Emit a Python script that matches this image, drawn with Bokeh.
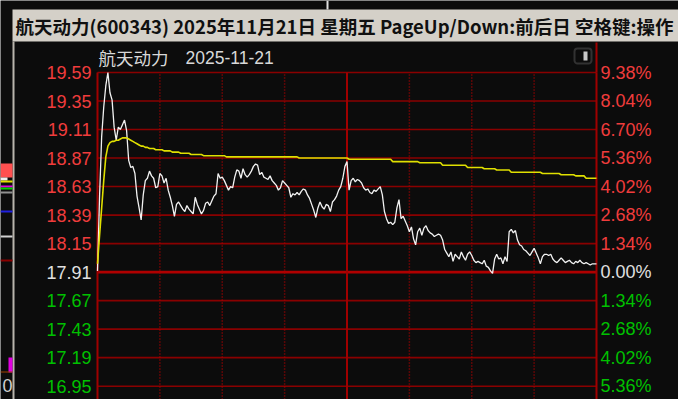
from bokeh.plotting import figure
from bokeh.models import Range1d, Label, BoxAnnotation
from bokeh.core.properties import value
from bokeh.embed import file_html
from bokeh.resources import INLINE

stock_name = "航天动力"
trade_date = "2025-11-21"
title_text = "航天动力(600343) 2025年11月21日 星期五 PageUp/Down:前后日 空格键:操作"
prev_close = 17.91

price = [
    17.92, 18.55, 19.05, 19.30, 19.48, 19.59, 19.42, 19.36, 19.13, 19.02,
    19.13, 19.11, 19.15, 19.19, 19.10, 18.85, 18.79, 18.80, 18.74, 18.55,
    18.45, 18.35, 18.56, 18.68, 18.70, 18.76, 18.72, 18.70, 18.62, 18.63,
    18.74, 18.72, 18.66, 18.70, 18.60, 18.54, 18.47, 18.38, 18.48, 18.50,
    18.47, 18.44, 18.42, 18.47, 18.44, 18.42, 18.40, 18.54, 18.48, 18.44,
    18.40, 18.43, 18.49, 18.50, 18.47, 18.51, 18.55, 18.57, 18.74, 18.70,
    18.71, 18.68, 18.64, 18.60, 18.63, 18.62, 18.71, 18.77, 18.76, 18.70,
    18.78, 18.73, 18.71, 18.73, 18.76, 18.80, 18.82, 18.81, 18.73, 18.75,
    18.71, 18.70, 18.69, 18.72, 18.68, 18.66, 18.64, 18.60, 18.62, 18.68,
    18.66, 18.64, 18.62, 18.54, 18.57, 18.56, 18.58, 18.56, 18.59, 18.61,
    18.60, 18.56, 18.53, 18.48, 18.43, 18.37, 18.45, 18.50, 18.46, 18.44,
    18.48, 18.47, 18.42, 18.50, 18.52, 18.55, 18.60, 18.63, 18.70, 18.80,
    18.84, 18.60, 18.68, 18.70, 18.67, 18.69, 18.68, 18.66, 18.62, 18.60,
    18.61, 18.58, 18.57, 18.60, 18.59, 18.61, 18.63, 18.56, 18.42, 18.36,
    18.32, 18.33, 18.31, 18.33, 18.45, 18.52, 18.36, 18.38, 18.34, 18.30,
    18.25, 18.29, 18.19, 18.14, 18.25, 18.28, 18.22, 18.28, 18.30, 18.26,
    18.24, 18.23, 18.21, 18.22, 18.23, 18.22, 18.18, 18.10, 18.07, 18.04,
    18.08, 18.00, 18.06, 18.04, 18.02, 18.08, 18.04, 18.01, 18.06, 18.08,
    18.05, 18.01, 17.99, 18.00, 17.99, 17.98, 18.01, 17.96, 17.95, 17.92,
    17.90, 18.02, 18.06, 18.02, 18.03, 17.98, 18.04, 18.00, 18.25, 18.27,
    18.24, 18.26, 18.18, 18.14, 18.13, 18.10, 18.09, 18.07, 18.05, 18.08,
    18.11, 18.07, 18.03, 17.98, 18.04, 18.06, 18.06, 18.05, 18.06, 18.02,
    18.00, 17.99, 18.01, 18.03, 18.01, 17.99, 18.00, 18.01, 17.99, 17.98,
    18.00, 17.99, 18.01, 17.99, 17.98, 17.99, 17.98, 17.97, 17.98, 17.98,
    17.98,
]

avg_price = [
    17.98, 18.22, 18.45, 18.68, 18.88, 18.97, 19.00, 19.01, 19.01, 19.02,
    19.02, 19.03, 19.04, 19.04, 19.04, 19.03, 19.02, 19.01, 19.00, 18.99,
    18.98, 18.97, 18.97, 18.96, 18.96, 18.95, 18.95, 18.95, 18.94, 18.94,
    18.94, 18.94, 18.93, 18.93, 18.93, 18.93, 18.92, 18.92, 18.92, 18.92,
    18.91, 18.91, 18.91, 18.91, 18.91, 18.90, 18.90, 18.90, 18.90, 18.90,
    18.90, 18.89, 18.89, 18.89, 18.89, 18.89, 18.89, 18.89, 18.89, 18.89,
    18.89, 18.89, 18.88, 18.88, 18.88, 18.88, 18.88, 18.88, 18.88, 18.88,
    18.88, 18.88, 18.88, 18.88, 18.88, 18.88, 18.88, 18.88, 18.88, 18.88,
    18.88, 18.88, 18.88, 18.88, 18.88, 18.88, 18.88, 18.88, 18.88, 18.88,
    18.88, 18.88, 18.88, 18.88, 18.88, 18.88, 18.88, 18.87, 18.87, 18.87,
    18.87, 18.87, 18.87, 18.87, 18.87, 18.87, 18.87, 18.87, 18.87, 18.87,
    18.87, 18.87, 18.87, 18.87, 18.87, 18.87, 18.87, 18.87, 18.87, 18.87,
    18.87, 18.86, 18.86, 18.86, 18.86, 18.86, 18.86, 18.86, 18.86, 18.86,
    18.86, 18.86, 18.86, 18.86, 18.86, 18.86, 18.86, 18.86, 18.86, 18.86,
    18.86, 18.86, 18.84, 18.84, 18.84, 18.84, 18.84, 18.84, 18.84, 18.84,
    18.84, 18.84, 18.84, 18.84, 18.84, 18.83, 18.83, 18.83, 18.83, 18.83,
    18.83, 18.83, 18.83, 18.83, 18.83, 18.83, 18.81, 18.81, 18.81, 18.81,
    18.81, 18.81, 18.81, 18.81, 18.81, 18.81, 18.81, 18.81, 18.79, 18.79,
    18.79, 18.79, 18.79, 18.79, 18.79, 18.79, 18.78, 18.78, 18.78, 18.78,
    18.78, 18.78, 18.77, 18.77, 18.77, 18.77, 18.77, 18.77, 18.77, 18.75,
    18.75, 18.75, 18.75, 18.75, 18.75, 18.75, 18.75, 18.75, 18.75, 18.75,
    18.75, 18.75, 18.75, 18.75, 18.74, 18.74, 18.74, 18.74, 18.74, 18.74,
    18.74, 18.74, 18.74, 18.73, 18.73, 18.73, 18.73, 18.73, 18.73, 18.73,
    18.72, 18.72, 18.72, 18.72, 18.72, 18.70, 18.70, 18.70, 18.70, 18.70,
    18.70,
]
minutes = list(range(len(price)))

price_ticks = [19.59, 19.35, 19.11, 18.87, 18.63, 18.39, 18.15, 17.91, 17.67, 17.43, 17.19, 16.95]
price_labels = ["19.59", "19.35", "19.11", "18.87", "18.63", "18.39", "18.15",
                "17.91", "17.67", "17.43", "17.19", "16.95"]
pct_labels = ["9.38%", "8.04%", "6.70%", "5.36%", "4.02%", "2.68%", "1.34%",
              "0.00%", "1.34%", "2.68%", "4.02%", "5.36%"]
time_dotted = [30, 60, 90, 150, 180, 210]
time_solid = [0, 120, 240]

BG = "#0c0c0c"
GRID = "#8a0000"
BORDER = "#a00000"
UP = "#f03c3c"
DOWN = "#00c000"
FLAT = "#e0e0e0"

colors = [UP if t > prev_close + 1e-9 else (DOWN if t < prev_close - 1e-9 else FLAT) for t in price_ticks]

W, H = 678, 399
FL, FR, FT = 97, 596, 72          # data-area edges in the page
KX = (FR - FL) / 240.0             # px per minute
Y_LO = 16.838
KY = (19.59 - Y_LO) / (H - FT)     # price per px

p = figure(width=W, height=H,
           x_range=Range1d(-FL / KX, 240 + (W - FR) / KX),
           y_range=Range1d(Y_LO, 19.59 + FT * KY),
           output_backend="svg", toolbar_location=None,
           min_border=0, background_fill_color=BG, border_fill_color=BG)
p.axis.visible = False
p.grid.visible = False
p.outline_line_color = None

t0, t1 = minutes[0], minutes[-1]
top_y = price_ticks[0]

# horizontal price grid
p.segment(x0=[t0] * len(price_ticks), x1=[t1] * len(price_ticks), y0=price_ticks, y1=price_ticks,
          line_color=GRID, line_width=1.6)
p.segment(x0=[t0], x1=[t1], y0=[prev_close], y1=[prev_close], line_color="#b00000", line_width=2.6)
# vertical time grid
p.segment(x0=time_dotted, x1=time_dotted, y0=[Y_LO] * len(time_dotted), y1=[top_y] * len(time_dotted),
          line_color="#a80000", line_width=1.5, line_dash="1 2")
p.segment(x0=time_solid, x1=time_solid, y0=[Y_LO] * 3, y1=[top_y] * 3,
          line_color=BORDER, line_width=2)
p.segment(x0=[t1], x1=[t1], y0=[top_y], y1=[top_y + 30 * KY], line_color=BORDER, line_width=2)

p.line(minutes, price, line_color="#f2f2f2", line_width=1.3)
p.line(minutes, avg_price, line_color="#e0e000", line_width=1.6)

p.text(x=[t0] * len(price_ticks), y=price_ticks, text=price_labels, x_offset=-6,
       text_color=colors, text_align="right", text_baseline="middle",
       text_font=value("Liberation Sans"), text_font_size="18px")
p.text(x=[t1] * len(price_ticks), y=price_ticks, text=pct_labels, x_offset=4,
       text_color=colors, text_align="left", text_baseline="middle",
       text_font=value("Liberation Sans"), text_font_size="18px")

def box(l, r, t, b, color, **kw):
    p.add_layout(BoxAnnotation(left=l, right=r, top=H - t, bottom=H - b,
                               left_units="screen", right_units="screen",
                               top_units="screen", bottom_units="screen",
                               fill_color=color, fill_alpha=1 if color else 0,
                               line_color=kw.get("line", None), line_width=kw.get("lw", 1),
                               border_radius=kw.get("radius", 0)))

# header text of the chart
p.add_layout(Label(x=98, y=H - 57, x_units="screen", y_units="screen",
                   text=stock_name, text_color="#d8d8d8",
                   text_font="Noto Sans CJK SC", text_font_size="17.5px", text_baseline="middle"))
p.add_layout(Label(x=185, y=H - 57, x_units="screen", y_units="screen",
                   text=trade_date, text_color="#d8d8d8",
                   text_font="Liberation Sans", text_font_size="17.5px", text_baseline="middle"))
# small toggle icon
box(574, 591, 48, 63, None, line="#8c8c8c", lw=2, radius=3)
box(583, 587, 51, 60, "#c8c8c8")

# window title bar
box(12, 678, 9, 41, "#d4d0c8")
p.add_layout(Label(x=15, y=H - 25, x_units="screen", y_units="screen",
                   text=title_text, text_color="#101010", text_font="Noto Sans CJK SC",
                   text_font_style="bold", text_font_size="18.5px", text_baseline="middle"))
box(326, 328, 0, 9, "#e0e0e0")

# neighbouring panel fragments at the left edge
box(12, 14, 41, 399, "#b8b4ac")
box(0, 12, 163, 177, "#ff5050")
box(0, 7, 177, 180, "#f0f0f0")
box(0, 12, 180, 182, "#e0e000")
box(0, 12, 185, 187, "#e000e0")
box(0, 12, 187, 189, "#00d000")
box(0, 12, 191, 193, "#909090")
box(0, 12, 210, 212, "#2020e0")
box(0, 12, 235, 237, "#d0d0d0")
box(0, 12, 259, 261, "#8a0000")
box(8, 12, 357, 372, "#e000e0")
box(0, 12, 371, 372, "#a04000")
p.add_layout(Label(x=2, y=H - 385, x_units="screen", y_units="screen", text="0",
                   text_color="#d0d0d0", text_font="Liberation Sans", text_font_size="18px",
                   text_baseline="middle"))

open("out.html", "w").write(file_html(p, INLINE))
